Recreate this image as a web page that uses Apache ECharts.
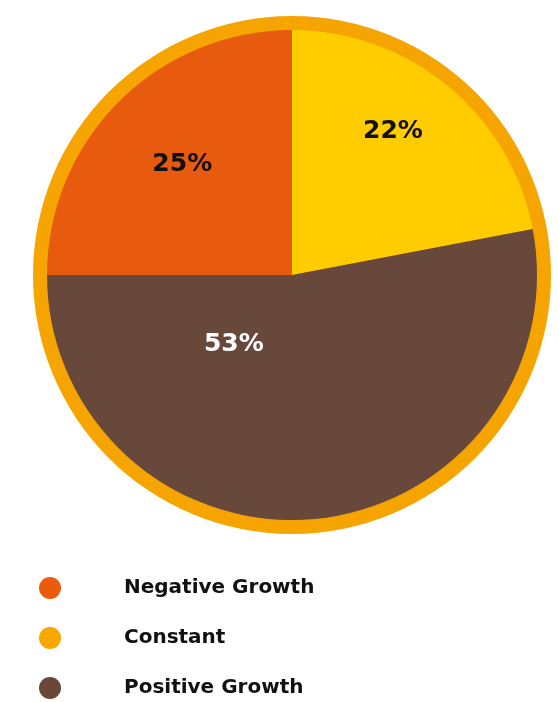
<!DOCTYPE html>
<html>
<head>
<meta charset="utf-8">
<script src="https://cdn.jsdelivr.net/npm/echarts@6/dist/echarts.min.js"></script>
<style>
  html, body { margin: 0; padding: 0; background: #fff; }
  #chart { width: 559px; height: 702px; }
</style>
</head>
<body>
<div id="chart"></div>
<script>
// slices, clockwise from 12 o'clock
const categories = ['Constant', 'Positive Growth', 'Negative Growth'];
const shares = [22, 53, 25];
const sliceColors = ['#FFCC00', '#69483C', '#E85A0E'];
const labelColors = ['#111', '#fff', '#111'];
const labelOffsets = [[21, -47], [-70, -55], [-21, -22]];

// legend order and swatch colours
const legendNames = ['Negative Growth', 'Constant', 'Positive Growth'];
const legendColors = ['#EA5B0E', '#F7A800', '#6B4739'];

const chart = echarts.init(document.getElementById('chart'));
const center = [292, 275];

chart.setOption({
  animation: false,
  legend: {
    orient: 'vertical',
    left: 39,
    top: 577,
    height: 125,
    padding: 0,
    itemWidth: 22,
    itemHeight: 22,
    itemGap: 28,
    icon: 'circle',
    selectedMode: false,
    textStyle: {
      fontFamily: 'DejaVu Sans',
      fontWeight: 'bold',
      fontSize: 20,
      color: '#111',
      padding: [0, 0, 0, 58]
    },
    data: legendNames.map((n, i) => ({ name: n, itemStyle: { color: legendColors[i] } }))
  },
  series: [
    {
      // outer ring
      type: 'pie',
      silent: true,
      center: center,
      radius: [0, 259],
      label: { show: false },
      labelLine: { show: false },
      itemStyle: { color: '#F6A500' },
      data: [{ name: 'ring', value: 1 }]
    },
    {
      type: 'pie',
      center: center,
      radius: [0, 245],
      startAngle: 90,
      clockwise: true,
      silent: true,
      label: {
        show: true,
        position: 'inside',
        formatter: '{c}%',
        fontFamily: 'DejaVu Sans',
        fontWeight: 'bold',
        fontSize: 25
      },
      labelLine: { show: false },
      data: categories.map((c, i) => ({
        name: c,
        value: shares[i],
        itemStyle: { color: sliceColors[i] },
        label: { color: labelColors[i], offset: labelOffsets[i] }
      }))
    }
  ]
});
</script>
</body>
</html>
